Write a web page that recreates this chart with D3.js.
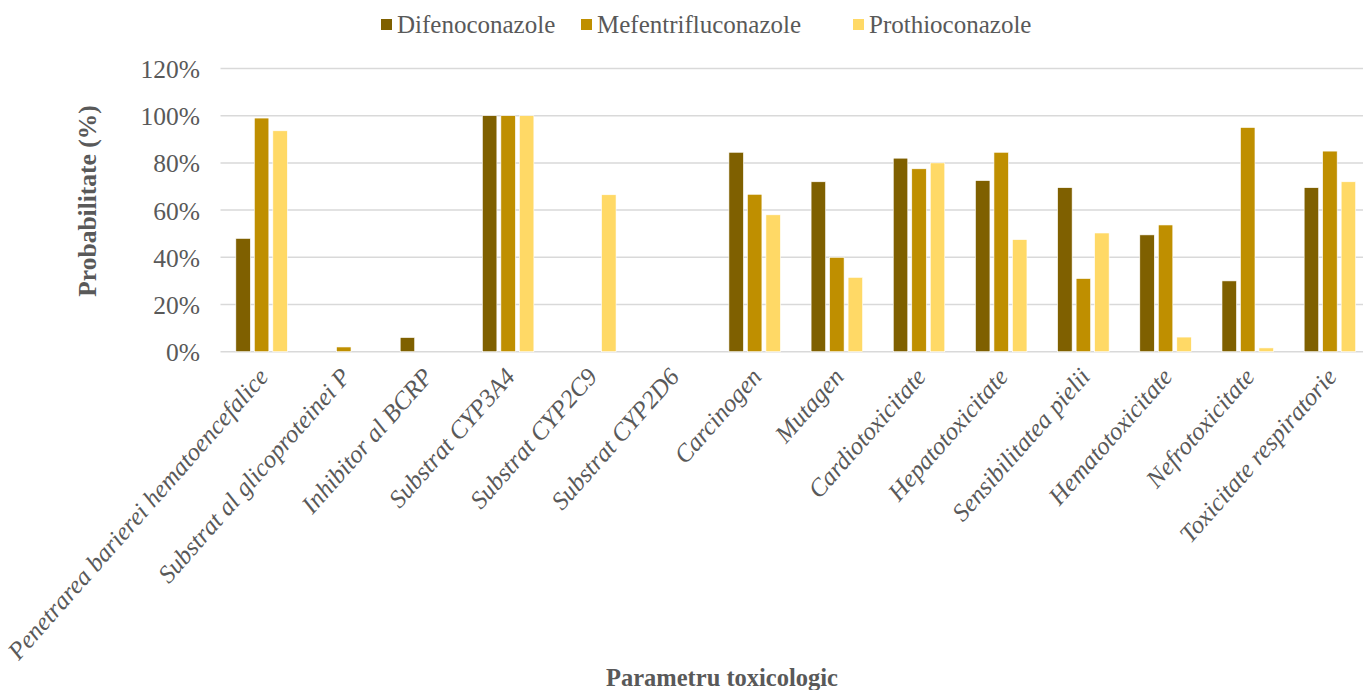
<!DOCTYPE html>
<html>
<head>
<meta charset="utf-8">
<script src="https://cdn.jsdelivr.net/npm/d3@7/dist/d3.min.js"></script>
<style>
  html, body { margin: 0; padding: 0; background: #fff; }
  svg { display: block; }
  svg text { font-family: "Liberation Serif", "Times New Roman", serif; fill: #595959; }
</style>
</head>
<body>
<svg id="chart" width="1363" height="690" font-family="Liberation Serif, Times New Roman, serif"></svg>
<script>
// Toxicological parameters (x axis categories)
const categories = [
  "Penetrarea barierei hematoencefalice",
  "Substrat al glicoproteinei P",
  "Inhibitor al BCRP",
  "Substrat CYP3A4",
  "Substrat CYP2C9",
  "Substrat CYP2D6",
  "Carcinogen",
  "Mutagen",
  "Cardiotoxicitate",
  "Hepatotoxicitate",
  "Sensibilitatea pielii",
  "Hematotoxicitate",
  "Nefrotoxicitate",
  "Toxicitate respiratorie"
];

const seriesNames = ["Difenoconazole", "Mefentrifluconazole", "Prothioconazole"];
const seriesColors = ["#7F6000", "#BF8F00", "#FFD966"];

// Probabilities (fractions of 1)
const difenoconazole      = [0.48, 0.00, 0.06, 1.00, 0.00, 0.00, 0.845, 0.72, 0.82, 0.725, 0.695, 0.495, 0.30, 0.695];
const mefentrifluconazole = [0.99, 0.02, 0.00, 1.00, 0.00, 0.00, 0.667, 0.40, 0.775, 0.845, 0.31, 0.537, 0.95, 0.85];
const prothioconazole     = [0.936, 0.00, 0.00, 1.00, 0.665, 0.00, 0.58, 0.315, 0.80, 0.475, 0.503, 0.062, 0.016, 0.72];

const yTicks = [0, 0.2, 0.4, 0.6, 0.8, 1.0, 1.2];

const seriesValues = [difenoconazole, mefentrifluconazole, prothioconazole];

const FONT = "Liberation Serif, Times New Roman, serif";
const TEXT_COLOR = "#595959";

const svg = d3.select("#chart");
const W = 1363;

const x0 = d3.scaleBand().domain(categories).range([220.5, 1371]).padding(0);
const groupWidth = 51.5;
const x1 = d3.scaleBand().domain(seriesNames)
  .range([0, groupWidth]).paddingInner(4 / 18.5).paddingOuter(0);
const groupOffset = (x0.bandwidth() - groupWidth) / 2;

const y = d3.scaleLinear().domain([0, 1.2]).range([351.7, 68.5]);

// Horizontal gridlines
svg.append("g").selectAll("line")
  .data(yTicks)
  .join("line")
  .attr("x1", 220.5).attr("x2", W)
  .attr("y1", d => y(d)).attr("y2", d => y(d))
  .attr("stroke", "#d9d9d9").attr("stroke-width", 1.5);

// Y axis tick labels
const yAxis = d3.axisLeft(y).tickValues(yTicks)
  .tickFormat(d => Math.round(d * 100) + "%").tickSize(0).tickPadding(0);
const yg = svg.append("g").attr("transform", "translate(200,0)").call(yAxis)
  .attr("font-family", FONT);
yg.select(".domain").remove();
yg.selectAll("text")
  .attr("font-size", 25.5).attr("fill", TEXT_COLOR).attr("dy", "0.35em");

// Bars
const rows = categories.map((c, i) => ({
  cat: c,
  vals: seriesNames.map((s, k) => ({ series: s, k, v: seriesValues[k][i] }))
}));

svg.append("g").selectAll("g")
  .data(rows)
  .join("g")
  .attr("transform", d => `translate(${x0(d.cat) + groupOffset},0)`)
  .selectAll("rect")
  .data(d => d.vals.filter(v => v.v > 0))
  .join("rect")
  .attr("x", d => x1(d.series))
  .attr("width", x1.bandwidth())
  .attr("y", d => y(d.v))
  .attr("height", d => y(0) - y(d.v))
  .attr("fill", d => seriesColors[d.k])
  .attr("stroke", "#ffffff").attr("stroke-width", 0.6);

// Category labels (rotated, italic)
svg.append("g").selectAll("text")
  .data(categories)
  .join("text")
  .attr("transform", d => `translate(${x0(d) + x0.bandwidth() / 2 - 5},366) rotate(-48.5)`)
  .attr("text-anchor", "end")
  .attr("dy", "0.7em")
  .attr("font-family", FONT)
  .attr("font-style", "italic")
  .attr("font-size", 25)
  .attr("fill", TEXT_COLOR)
  .text(d => d);

// Axis titles
svg.append("text")
  .attr("transform", "translate(96,201) rotate(-90)")
  .attr("text-anchor", "middle")
  .attr("font-family", FONT)
  .attr("font-weight", "bold").attr("font-size", 25.5)
  .attr("fill", TEXT_COLOR)
  .text("Probabilitate (%)");

svg.append("text")
  .attr("x", 722).attr("y", 686)
  .attr("text-anchor", "middle")
  .attr("font-family", FONT)
  .attr("font-weight", "bold").attr("font-size", 24.5)
  .attr("fill", TEXT_COLOR)
  .text("Parametru toxicologic");

// Legend
const legendX = [381, 581, 853];
const lg = svg.append("g").selectAll("g")
  .data(seriesNames)
  .join("g")
  .attr("transform", (d, i) => `translate(${legendX[i]},0)`);
lg.append("rect")
  .attr("x", 0).attr("y", 19).attr("width", 11).attr("height", 11)
  .attr("fill", (d, i) => seriesColors[i]);
lg.append("text")
  .attr("x", 16).attr("y", 33)
  .attr("font-family", FONT)
  .attr("font-size", 25)
  .attr("fill", TEXT_COLOR)
  .text(d => d);
</script>
</body>
</html>
